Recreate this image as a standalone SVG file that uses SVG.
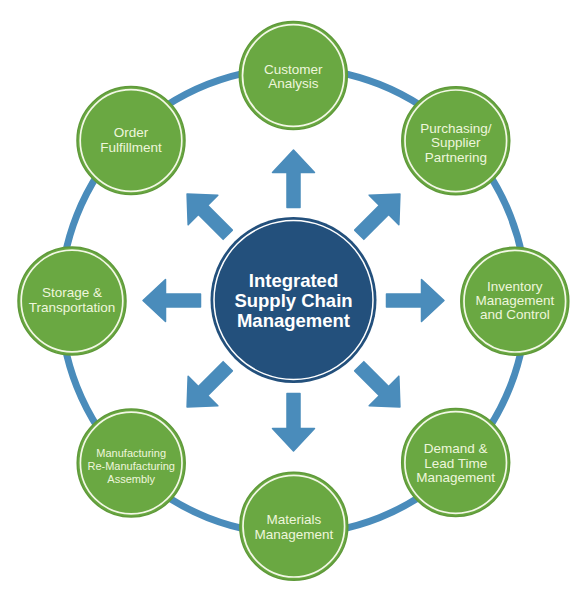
<svg xmlns="http://www.w3.org/2000/svg" width="584" height="591" viewBox="0 0 584 591">
<defs>
<style>
.ring{fill:none;stroke:#4a8cbb;stroke-width:7}
.arrow{fill:#4a8cbb;stroke:#4a8cbb;stroke-width:1.5;stroke-linejoin:round}
.nodeOuter{fill:#6aa842;stroke:#5f9a3a;stroke-width:1.5}
.nodeInner{fill:none;stroke:#f3f8e6;stroke-width:1.7}
.nt{font-family:"Liberation Sans",Arial,sans-serif;font-size:13.5px;fill:#eef6dc;text-anchor:middle}
.nts{font-size:11px}
.ct{font-family:"Liberation Sans",Arial,sans-serif;font-size:18.5px;font-weight:bold;fill:#ffffff;text-anchor:middle}
</style>
<path id="arr" d="M -6.5,-93 L -6.5,-128 L -21,-128 L 0,-150.5 L 21,-128 L 6.5,-128 L 6.5,-93 Z"/>
</defs>
<rect width="584" height="591" fill="#ffffff"/>
<g id="connectors">
<circle class="ring" cx="293.5" cy="301" r="233"/>
<g transform="translate(293.5,300.5)">
<use href="#arr" class="arrow" transform="rotate(0)"/>
<use href="#arr" class="arrow" transform="rotate(45)"/>
<use href="#arr" class="arrow" transform="rotate(90)"/>
<use href="#arr" class="arrow" transform="rotate(135)"/>
<use href="#arr" class="arrow" transform="rotate(180)"/>
<use href="#arr" class="arrow" transform="rotate(225)"/>
<use href="#arr" class="arrow" transform="rotate(270)"/>
<use href="#arr" class="arrow" transform="rotate(315)"/>
</g>
</g>
<g id="center">
<circle cx="293.5" cy="300" r="83" fill="#23507c"/>
<circle cx="293.5" cy="300" r="79.5" fill="none" stroke="#ffffff" stroke-width="1.5"/>
<text class="ct" x="293.5" y="287.3">Integrated</text>
<text class="ct" x="293.5" y="307.3">Supply Chain</text>
<text class="ct" x="293.5" y="326.7">Management</text>
</g>
<g id="customer-analysis">
<circle class="nodeOuter" cx="293.3" cy="75.5" r="54"/>
<circle class="nodeInner" cx="293.3" cy="75.5" r="50.8"/>
<text class="nt" x="293.3" y="74">Customer</text>
<text class="nt" x="293.3" y="88.3">Analysis</text>
</g>
<g id="purchasing">
<circle class="nodeOuter" cx="455.8" cy="140.8" r="54"/>
<circle class="nodeInner" cx="455.8" cy="140.8" r="50.8"/>
<text class="nt" x="455.8" y="132.7">Purchasing/</text>
<text class="nt" x="455.8" y="147.3">Supplier</text>
<text class="nt" x="455.8" y="161.7">Partnering</text>
</g>
<g id="inventory">
<circle class="nodeOuter" cx="514.8" cy="301.2" r="54"/>
<circle class="nodeInner" cx="514.8" cy="301.2" r="50.8"/>
<text class="nt" x="514.8" y="290.7">Inventory</text>
<text class="nt" x="514.8" y="305">Management</text>
<text class="nt" x="514.8" y="319.3">and Control</text>
</g>
<g id="demand">
<circle class="nodeOuter" cx="455.7" cy="462.5" r="54"/>
<circle class="nodeInner" cx="455.7" cy="462.5" r="50.8"/>
<text class="nt" x="455.7" y="453.3">Demand &amp;</text>
<text class="nt" x="455.7" y="467.7">Lead Time</text>
<text class="nt" x="455.7" y="482.3">Management</text>
</g>
<g id="materials">
<circle class="nodeOuter" cx="293.8" cy="526.2" r="54"/>
<circle class="nodeInner" cx="293.8" cy="526.2" r="50.8"/>
<text class="nt" x="293.8" y="524.3">Materials</text>
<text class="nt" x="293.8" y="538.7">Management</text>
</g>
<g id="manufacturing">
<circle class="nodeOuter" cx="131.2" cy="463" r="54"/>
<circle class="nodeInner" cx="131.2" cy="463" r="50.8"/>
<text class="nt nts" x="131.2" y="456.7">Manufacturing</text>
<text class="nt nts" x="131.2" y="470">Re-Manufacturing</text>
<text class="nt nts" x="131.2" y="483.3">Assembly</text>
</g>
<g id="storage">
<circle class="nodeOuter" cx="72" cy="301" r="54"/>
<circle class="nodeInner" cx="72" cy="301" r="50.8"/>
<text class="nt" x="72" y="297.3">Storage &amp;</text>
<text class="nt" x="72" y="311.7">Transportation</text>
</g>
<g id="order-fulfillment">
<circle class="nodeOuter" cx="131" cy="140.5" r="54"/>
<circle class="nodeInner" cx="131" cy="140.5" r="50.8"/>
<text class="nt" x="131" y="137.3">Order</text>
<text class="nt" x="131" y="152.3">Fulfillment</text>
</g>
</svg>
